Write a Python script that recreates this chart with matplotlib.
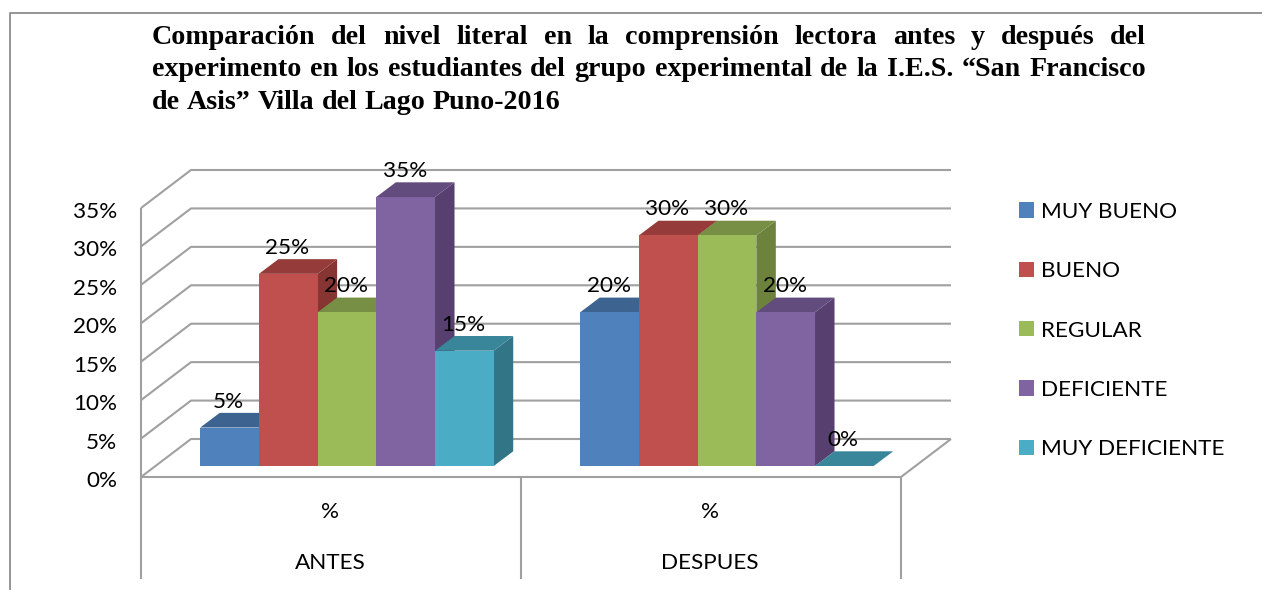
import matplotlib
matplotlib.use("Agg")
import matplotlib.pyplot as plt
from matplotlib.lines import Line2D
from matplotlib.patches import Polygon, Patch
from matplotlib.transforms import blended_transform_factory, Affine2D

W, H = 1262, 590
groups = ["ANTES", "DESPUES"]
measure = ["%", "%"]
series = ["MUY BUENO", "BUENO", "REGULAR", "DEFICIENTE", "MUY DEFICIENTE"]
antes = [5, 25, 20, 35, 15]
despues = [20, 30, 30, 20, 0]
colors = ["#4F81BD", "#C0504D", "#9BBB59", "#8064A2", "#4BACC6"]
tops = ["#3D6391", "#953B39", "#778F44", "#624C7D", "#39859A"]
sides = ["#355780", "#873533", "#6C823D", "#573F6F", "#327587"]
yticks = [0, 5, 10, 15, 20, 25, 30, 35]
title_lines = [
    "Comparación del nivel literal en la comprensión lectora antes y después del",
    "experimento en los estudiantes del grupo experimental de la I.E.S. “San Francisco",
    "de Asis” Villa del Lago Puno-2016",
]

GRID = "#A0A0A0"
FONT = "Lato"
fs = 16.2

fig = plt.figure(figsize=(W / 100, H / 100), dpi=100, facecolor="white")
L, R, B, T = 141, 901, 477, 208
ax = fig.add_axes([L / W, (H - B) / H, (R - L) / W, (B - T) / H])
ax.set_xlim(0, 2)
ax.set_ylim(0, 35)
ax.patch.set_visible(False)
for s in ax.spines.values():
    s.set_visible(False)

px_x = 2 / (R - L)
px_y = 35 / (B - T)

# walls and gridlines
WDX, WDY = 50 * px_x, 38 * px_y
lk = dict(color=GRID, lw=1.5, clip_on=False, zorder=1, solid_capstyle="butt")
for v in yticks:
    ax.plot([0, WDX, 2 + WDX], [v, v + WDY, v + WDY], **lk)
ax.plot([0, 2, 2 + WDX], [0, 0, WDY], **lk)
bt = blended_transform_factory(ax.transData, fig.transFigure)
for xv in [0, 1, 2]:
    ax.plot([xv, xv], [(H - 579) / H, (H - T if xv == 0 else H - B) / H],
            transform=bt, **lk)

# bars
FDX, FDY = 14 * px_x, 11 * px_y
BDX, BDY = 19.5 * px_x, 14.7 * px_y
bw = 58.7 * px_x
start = 0.119
z = 3
for g, vals in enumerate([antes, despues]):
    for i, v in enumerate(vals):
        x0 = g + start + FDX + i * bw
        x1 = x0 + bw
        b0 = FDY
        t0 = b0 + v
        faces = [
            ([(x1, b0), (x1 + BDX, b0 + BDY), (x1 + BDX, t0 + BDY), (x1, t0)], sides[i]),
            ([(x0, t0), (x0 + BDX, t0 + BDY), (x1 + BDX, t0 + BDY), (x1, t0)], tops[i]),
            ([(x0, b0), (x1, b0), (x1, t0), (x0, t0)], colors[i]),
        ]
        for pts, c in faces:
            ax.add_patch(Polygon(pts, closed=True, fc=c, ec="none", clip_on=False, zorder=z))
        z += 1
        ax.annotate(f"{v}%", xy=((x0 + x1) / 2 - 1 * px_x, t0), xytext=(0, 26 * 0.72),
                    textcoords="offset points", ha="center", va="center",
                    fontsize=fs, family=FONT, color="black", zorder=30,
                    annotation_clip=False)

# axis labels
ax.set_yticks(yticks)
ax.set_yticklabels([f"{v}%" for v in yticks], fontsize=fs, family=FONT)
ax.tick_params(axis="y", length=0, pad=17)
for lab in ax.get_yticklabels():
    lab.set_transform(lab.get_transform() + Affine2D().translate(0, -2))
ax.set_xticks([0.5, 1.5])
ax.set_xticklabels(measure, fontsize=fs, family=FONT)
ax.tick_params(axis="x", length=0, pad=18)
for lab in ax.get_xticklabels():
    lab.set_transform(lab.get_transform() + Affine2D().translate(-1, 0))
for i, g in enumerate(groups):
    ax.annotate(g, xy=(i + 0.5, 0), xytext=(-0.7, -86 * 0.72), textcoords="offset points",
                ha="center", va="center", fontsize=fs, family=FONT,
                annotation_clip=False)

# legend
handles = [Patch(fc=c, ec="none", label=s) for c, s in zip(colors, series)]
fig.legend(handles=handles, loc="upper left",
           bbox_to_anchor=(1019 / W, 1 - 202 / H), frameon=False, borderpad=0,
           borderaxespad=0, handlelength=10.8 / fs, handleheight=10.8 / fs,
           handletextpad=5 / fs, labelspacing=1.747,
           prop={"family": FONT, "size": fs})

# outer frame
fig.add_artist(Line2D([9.5 / W, 9.5 / W, 1], [0, 1 - 13 / H, 1 - 13 / H],
                      transform=fig.transFigure, color="#8C8C8C", lw=1.3))

# title, justified between two margins
X0, X1 = 152, 1146
baselines = [44, 76.5, 109]
renderer = fig.canvas.get_renderer()
tk = dict(family="Liberation Serif", fontweight="bold", fontsize=20.2, color="black",
          va="baseline", ha="left", transform=fig.transFigure)
for n, (line, yb) in enumerate(zip(title_lines, baselines)):
    words = line.split(" ")
    arts = [fig.text(X0 / W, 1 - yb / H, w, **tk) for w in words]
    widths = [a.get_window_extent(renderer).width for a in arts]
    if n < 2:
        gap = (X1 - X0 - sum(widths)) / (len(words) - 1)
    else:
        probe = fig.text(0, 0, "a a", **tk)
        pa = fig.text(0, 0, "aa", **tk)
        gap = probe.get_window_extent(renderer).width - pa.get_window_extent(renderer).width
        probe.remove()
        pa.remove()
    x = X0
    for a, w in zip(arts, widths):
        a.set_x(x / W)
        x += w + gap

fig.savefig("out.png", dpi=100, facecolor="white")
